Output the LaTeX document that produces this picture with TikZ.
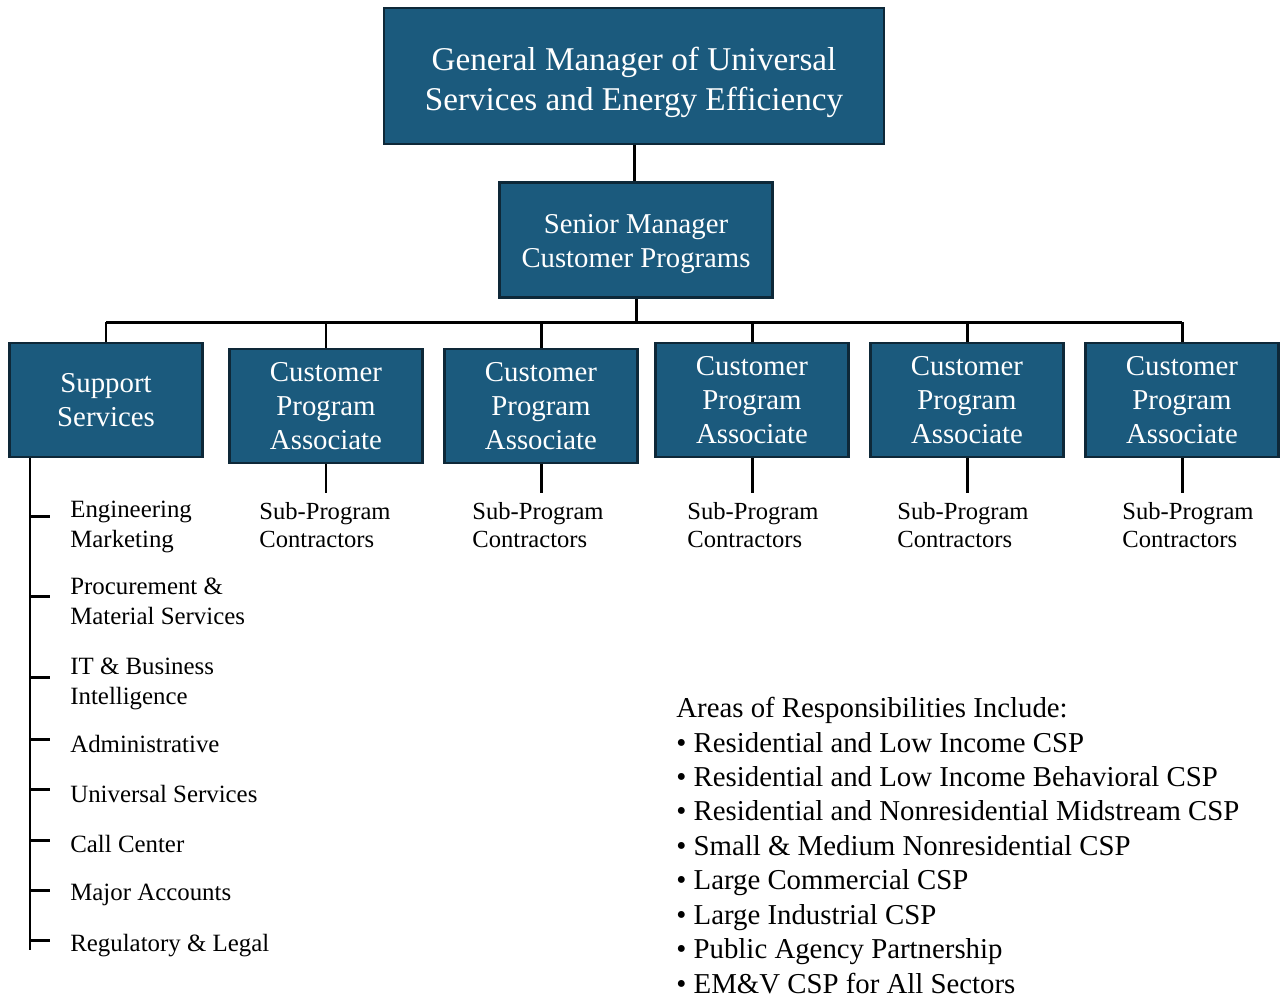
\documentclass[tikz,border=0pt]{standalone}
\usepackage{fontspec}
\setmainfont{Liberation Serif}
\definecolor{boxblue}{RGB}{27,90,125}
\definecolor{boxedge}{RGB}{14,40,56}
\tikzset{
  box/.style={draw=boxedge, line width=1.4pt, fill=boxblue, text=white, align=center, inner sep=2pt},
  boxtext/.style={text=white, align=center, inner sep=0pt},
  cpabox/.style={box, minimum width=3.86cm, minimum height=2.28cm, font=\fontsize{16.4}{19.3}\selectfont},
  conn/.style={line width=1.7pt, black},
  item/.style={anchor=west, align=left, inner sep=0pt, font=\fontsize{14.15}{17}\selectfont},
  sub/.style={align=left, inner sep=1pt, inner ysep=5pt, font=\fontsize{14}{16.4}\selectfont},
}
\begin{document}
\begin{tikzpicture}[x=0.02cm,y=-0.02cm]
\useasboundingbox (0,0) rectangle (1280,998);
% Managers
\node[box, minimum width=10cm, minimum height=2.72cm,
  label={[boxtext, yshift=-3.4pt, font=\fontsize{18.9}{22.7}\selectfont]center:{General Manager of Universal\\Services and Energy Efficiency}}]
  (gm) at (634,76) {};
\node[box, minimum width=5.46cm, minimum height=2.3cm,
  label={[boxtext, yshift=-2.3pt, font=\fontsize{16.35}{19.3}\selectfont]center:{Senior Manager\\Customer Programs}}]
  (sm) at (636,240) {};
\draw[conn] (gm.south) -- (gm.south |- sm.north);
% Second row
\node[cpabox] (ss) at (106,400) {Support\\Services};
\foreach \n/\x/\y in {1/326/406, 2/541/406, 3/752/400, 4/967/400, 5/1182/400}
  \node[cpabox] (cpa\n) at (\x,\y) {Customer\\Program\\Associate};
% Bus
\coordinate (bus) at (636,322);
\draw[conn] (sm.south) -- (sm.south |- bus);
\draw[conn] (ss.north |- bus) -- (cpa5.north |- bus);
\foreach \n in {ss,cpa1,cpa2,cpa3,cpa4,cpa5}
  \draw[conn] (\n.north) -- (\n.north |- bus);
% Contractors
\foreach \n/\x in {1/325,2/538,3/753,4/963,5/1188}{
  \node[sub] (sub\n) at (\x,525) {Sub-Program\\Contractors};
  \draw[conn] (cpa\n.south) -- (cpa\n.south |- sub\n.north);
}
% Support list
\coordinate (spine) at (30,950);
\draw[conn] (ss.south -| spine) -- (spine);
\foreach \t/\l/\txt [count=\i] in {516/527/{Engineering\\Marketing}, 596/601/{Procurement \&\\Material Services},
    677/684/{IT \& Business\\Intelligence}, 739/744/Administrative, 789/794/Universal Services,
    840/844/Call Center, 890/895/Major Accounts, 940/946/Regulatory \& Legal}{
  \coordinate (tick\i) at (30,\t);
  \coordinate (tickend\i) at (50,\t);
  \draw[conn] (tick\i) -- (tickend\i);
  \node[item] (item\i) at (70,\l) {\txt};
}
% Areas
\node[anchor=north west, align=left, inner sep=0pt, font=\fontsize{16.4}{19.6}\selectfont] (areas) at (676,697)
  {Areas of Responsibilities Include:\\
   \textbullet\ Residential and Low Income CSP\\
   \textbullet\ Residential and Low Income Behavioral CSP\\
   \textbullet\ Residential and Nonresidential Midstream CSP\\
   \textbullet\ Small \& Medium Nonresidential CSP\\
   \textbullet\ Large Commercial CSP\\
   \textbullet\ Large Industrial CSP\\
   \textbullet\ Public Agency Partnership\\
   \textbullet\ EM\&V CSP for All Sectors};
\end{tikzpicture}
\end{document}
